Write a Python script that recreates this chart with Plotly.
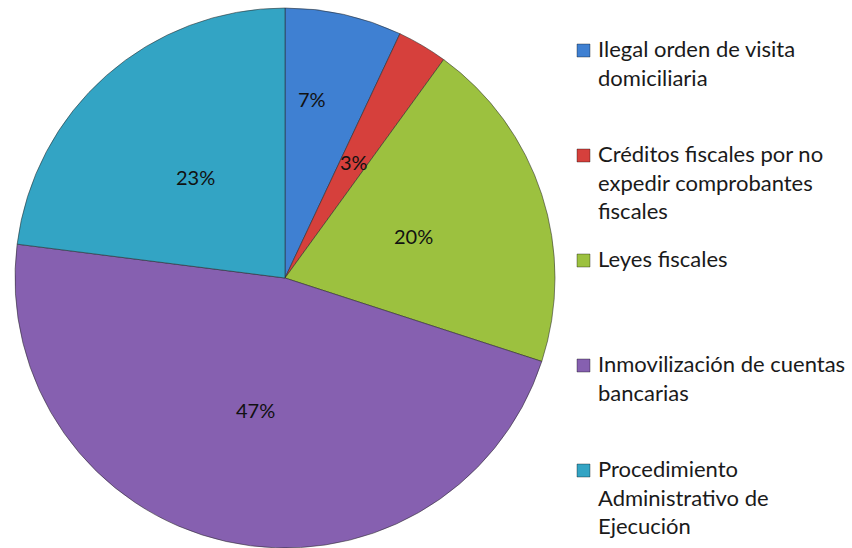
import math
import plotly.graph_objects as go

# Category labels (with manual line breaks for the legend) and shares in percent
categories = [
    "Ilegal orden de visita<br>domiciliaria",
    "Créditos fiscales por no<br>expedir comprobantes<br>fiscales",
    "Leyes fiscales",
    "Inmovilización de cuentas<br>bancarias",
    "Procedimiento<br>Administrativo de<br>Ejecución",
]
shares = [7, 3, 20, 47, 23]
colors = ["#3f80d2", "#d6403c", "#9cc13f", "#8660b0", "#33a4c4"]

W, H = 852, 548
FONT = "Lato, Calibri, sans-serif"

# Pie geometry in pixels
CX, CY, R = 285, 278, 270

fig = go.Figure()
fig.add_trace(go.Pie(
    labels=[c.replace("<br>", " ") for c in categories],
    values=shares,
    sort=False,
    direction="clockwise",
    rotation=0,
    marker=dict(colors=colors, line=dict(color="rgba(40,40,40,0.55)", width=1)),
    textinfo="none",
    showlegend=False,
    hoverinfo="label+percent",
    domain=dict(x=[(CX - R) / W, (CX + R) / W], y=[1 - (CY + R) / H, 1 - (CY - R) / H]),
))

# Percentage labels placed along each slice's bisector
label_radius = [0.67, 0.5, 0.5, 0.5, 0.5]
label_shift_deg = [-4, 0, 0, 0, 0]
annotations = []
total = sum(shares)
cum = 0
for i, v in enumerate(shares):
    mid = (cum + v / 2) / total * 360 + label_shift_deg[i]
    cum += v
    rr = R * label_radius[i]
    px = CX + rr * math.sin(math.radians(mid))
    py = CY - rr * math.cos(math.radians(mid))
    annotations.append(dict(
        xref="paper", yref="paper", x=px / W, y=1 - py / H,
        xanchor="center", yanchor="middle", showarrow=False,
        text=f"{v}%", font=dict(family=FONT, size=20, color="#111111"),
    ))

# Legend drawn as evenly spaced entries down the right side
legend_x_px = 577
first_y_px = 50.5
step_px = 105
shapes = []
for i, (name, col) in enumerate(zip(categories, colors)):
    yc = first_y_px + i * step_px
    shapes.append(dict(
        type="rect", xref="paper", yref="paper",
        x0=legend_x_px / W, x1=(legend_x_px + 13) / W,
        y0=1 - (yc + 6.5) / H, y1=1 - (yc - 6.5) / H,
        fillcolor=col, line=dict(color="rgba(0,0,0,0.35)", width=1),
    ))
    annotations.append(dict(
        xref="paper", yref="paper",
        x=(legend_x_px + 19) / W, y=1 - (yc - 17.5) / H,
        xanchor="left", yanchor="top", align="left",
        text=name,
        showarrow=False,
        font=dict(family=FONT, size=22, color="#1a1a1a"),
    ))

fig.update_layout(
    width=W, height=H,
    margin=dict(l=0, r=0, t=0, b=0),
    paper_bgcolor="white",
    plot_bgcolor="white",
    shapes=shapes,
    annotations=annotations,
)

fig.write_html("out.html")
